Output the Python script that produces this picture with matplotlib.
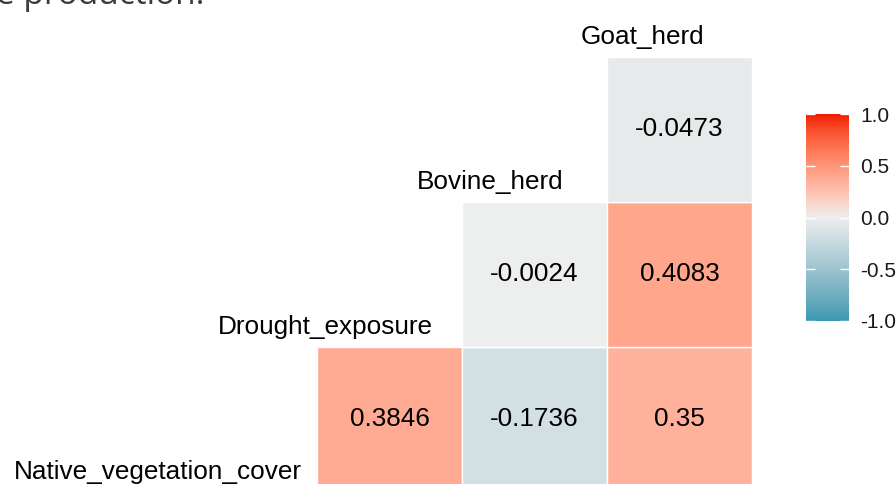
import numpy as np
import matplotlib
matplotlib.use('Agg')
import matplotlib.pyplot as plt
from matplotlib.colors import ListedColormap, Normalize
from matplotlib.patches import Rectangle

# --------------------------------------------------------------------------
# Data: pairwise correlations (upper triangle is drawn)
# --------------------------------------------------------------------------
variables = ['Native_vegetation_cover', 'Drought_exposure', 'Bovine_herd', 'Goat_herd']
corr = np.array([
    [1.0,     0.3846, -0.1736,  0.35],
    [0.3846,  1.0,    -0.0024,  0.4083],
    [-0.1736, -0.0024, 1.0,    -0.0473],
    [0.35,    0.4083, -0.0473,  1.0],
])
cbar_ticks = [-1.0, -0.5, 0.0, 0.5, 1.0]

plt.rcParams['font.family'] = ['Liberation Sans', 'DejaVu Sans']

# --------------------------------------------------------------------------
# Diverging palette interpolated in CIELAB (low / mid / high)
# --------------------------------------------------------------------------
LOW, MID, HIGH = '#3B9AB2', '#EEEEEE', '#F21A00'
WP = np.array([0.95047, 1.0, 1.08883])
M_RGB2XYZ = np.array([[0.4124, 0.3576, 0.1805],
                      [0.2126, 0.7152, 0.0722],
                      [0.0193, 0.1192, 0.9505]])


def hex2rgb(h):
    return np.array([int(h[i:i + 2], 16) / 255 for i in (1, 3, 5)])


def rgb2lab(c):
    lin = np.where(c <= 0.04045, c / 12.92, ((c + 0.055) / 1.055) ** 2.4)
    xyz = M_RGB2XYZ @ lin / WP
    f = np.where(xyz > 0.008856, np.cbrt(xyz), 7.787 * xyz + 16 / 116)
    return np.array([116 * f[1] - 16, 500 * (f[0] - f[1]), 200 * (f[1] - f[2])])


def lab2rgb(lab):
    fy = (lab[0] + 16) / 116
    fx = fy + lab[1] / 500
    fz = fy - lab[2] / 200
    f = np.array([fx, fy, fz])
    xyz = np.where(f ** 3 > 0.008856, f ** 3, (f - 16 / 116) / 7.787) * WP
    lin = np.linalg.solve(M_RGB2XYZ, xyz)
    lin = np.clip(lin, 0, 1)
    c = np.where(lin <= 0.0031308, 12.92 * lin, 1.055 * lin ** (1 / 2.4) - 0.055)
    return np.clip(c, 0, 1)


lab_lo, lab_mid, lab_hi = (rgb2lab(hex2rgb(h)) for h in (LOW, MID, HIGH))
cols = []
for v in np.linspace(-1, 1, 256):
    end = lab_lo if v < 0 else lab_hi
    cols.append(lab2rgb(lab_mid + abs(v) * (end - lab_mid)))
cmap = ListedColormap(cols)
norm = Normalize(-1, 1)

# --------------------------------------------------------------------------
# Figure: one unit = one cell (145 px)
# --------------------------------------------------------------------------
fig = plt.figure(figsize=(8.96, 4.84), dpi=100)
ax = fig.add_axes([0, 0, 1, 1])
ax.set_xlim(-1.686, 4.493)
ax.set_ylim(-0.445, 2.893)
ax.axis('off')

n = len(variables)
FS = 18.8
for i in range(n):
    for j in range(i + 1, n):
        v = corr[i, j]
        ax.add_patch(Rectangle((j - 0.5, i - 0.5), 1, 1, facecolor=cmap(norm(v)),
                               edgecolor='white', lw=1))
        ax.text(j, i, f'{v:g}', ha='center', va='center', fontsize=FS, color='black')

# diagonal labels, horizontal justification 0.8 like the original
labels = []
for k, name in enumerate(variables):
    labels.append(ax.text(k, k - 0.41, name, ha='left', va='baseline',
                          fontsize=FS, color='black'))
fig.canvas.draw()
r = fig.canvas.get_renderer()
px_per_unit = fig.bbox.width / (4.493 + 1.686)
for k, t in enumerate(labels):
    w = t.get_window_extent(r).width / px_per_unit
    t.set_x(k - 0.8 * w)

# cut-off caption line from the page above
fig.text(204 / 896, 1 - 4 / 484, 'e production.', ha='right', va='baseline',
         fontsize=24, color='#3a3a3a', family=['Open Sans', 'DejaVu Sans'])

# --------------------------------------------------------------------------
# Colour bar
# --------------------------------------------------------------------------
cax = fig.add_axes([806 / 896, (484 - 321) / 484, 43 / 896, 207 / 484])
grad = np.linspace(-1, 1, 300).reshape(-1, 1)
cax.imshow(grad, cmap=cmap, norm=norm, aspect='auto', origin='lower',
           extent=(0, 1, -1, 1))
for tv in cbar_ticks:
    cax.hlines(tv, 0, 0.2, color='white', lw=1)
    cax.hlines(tv, 0.8, 1, color='white', lw=1)
cax.set_xlim(0, 1)
cax.set_ylim(-1, 1)
cax.set_xticks([])
cax.yaxis.tick_right()
cax.set_yticks(cbar_ticks)
cax.set_yticklabels([f'{t:.1f}' for t in cbar_ticks])
cax.tick_params(axis='y', length=0, pad=8, labelsize=15, labelcolor='#1a1a1a')
for s in cax.spines.values():
    s.set_visible(False)

fig.savefig('out.png', dpi=100)
